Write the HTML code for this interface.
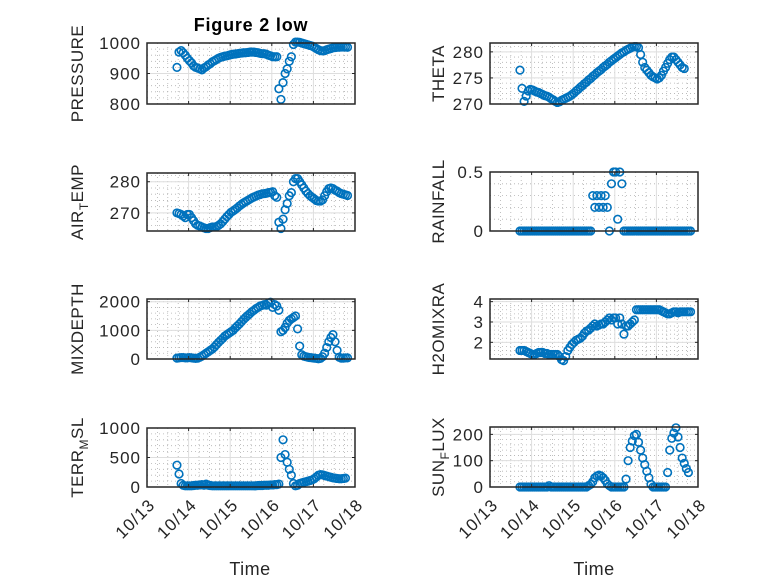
<!DOCTYPE html>
<html><head><meta charset="utf-8"><style>
body{margin:0;background:#fff;}
svg{display:block;font-family:"Liberation Sans",sans-serif;}
</style></head><body>
<svg id="fig" width="778" height="583" viewBox="0 0 778 583" xmlns="http://www.w3.org/2000/svg">
<rect width="778" height="583" fill="#fff"/>
<text x="251" y="31" text-anchor="middle" font-size="18" font-weight="bold" letter-spacing="0.8" fill="#000">Figure 2 low</text>
<text x="250" y="575" text-anchor="middle" font-size="18" letter-spacing="0.5" fill="#262626">Time</text>
<text x="594" y="575" text-anchor="middle" font-size="18" letter-spacing="0.5" fill="#262626">Time</text>
</svg>
<script>
const tStart = 13.72, tStep = 0.05;
const dayTicks = [13,14,15,16,17,18];
const dayLabels = ["10/13","10/14","10/15","10/16","10/17","10/18"];
const pressure = [920,970,975,968,960,950,942,935,925,920,918,915,912,918,922,928,932,938,942,946,950,953,955,957,958,960,962,963,964,965,966,967,968,968,969,970,970,970,969,968,966,965,965,963,960,958,955,955,955,850,815,870,900,915,940,955,995,1003,1003,1002,1000,998,996,994,992,990,986,982,978,975,974,975,978,980,982,984,985,986,986,987,987,987,986];
const theta = [276.5,273,270.5,271.5,272.5,272.8,272.7,272.5,272.3,272.2,272.0,271.8,271.6,271.5,271.3,271.0,270.8,270.5,270.3,270.4,270.7,270.9,271.1,271.3,271.5,271.8,272.1,272.5,272.8,273.2,273.5,273.9,274.2,274.6,274.9,275.3,275.6,276.0,276.3,276.6,277.0,277.3,277.6,278.0,278.3,278.6,278.9,279.2,279.5,279.8,280.0,280.3,280.5,280.7,280.9,281,281,280.8,279.5,278,277,276.5,276,275.5,275.2,275,274.8,275,275.5,276.3,277,277.8,278.5,279,279,278.5,278,277.5,277,276.8,null,null,null];
const airTemp = [270,269.8,269.5,269,268.5,269.5,269.5,268.5,267.5,266.5,266,265.8,265.5,265.2,265,265,265.3,265.5,265.5,265.6,266,266.5,267.2,268,268.8,269.5,270.2,270.6,271.1,271.6,272.2,272.7,273.2,273.6,274.0,274.4,274.8,275.1,275.4,275.7,275.9,276.1,276.2,276.3,276.5,276.6,276.8,275.5,275,267,265,268,271,273,275.5,276.5,280,281,281,280,279,278,277,276.2,275.5,275,274.5,274,273.8,273.8,274.2,275.5,276.8,277.8,278,277.8,277.3,277,276.5,276.2,276,275.8,275.6];
const rainfall = [0,0,0,0,0,0,0,0,0,0,0,0,0,0,0,0,0,0,0,0,0,0,0,0,0,0,0,0,0,0,0,0,0,0,0,0.3,0.2,0.3,0.2,0.3,0.2,0.3,0.2,0,0.4,0.5,0.5,0.1,0.5,0.4,0,0,0,0,0,0,0,0,0,0,0,0,0,0,0,0,0,0,0,0,0,0,0,0,0,0,0,0,0,0,0,0,0];
const mixDepth = [30,40,50,50,40,40,50,40,30,20,30,60,100,150,200,250,300,350,420,500,580,650,720,800,850,900,950,1000,1080,1150,1220,1300,1380,1450,1520,1580,1650,1700,1760,1800,1850,1870,1900,1880,1950,1980,1800,1900,1850,1700,950,1000,1100,1250,1350,1400,1450,1500,1050,450,150,100,80,60,50,40,30,20,10,20,80,200,400,600,750,850,600,300,60,30,30,40,40];
const h2oMix = [1.6,1.6,1.6,1.55,1.5,1.45,1.4,1.4,1.45,1.5,1.5,1.5,1.45,1.45,1.4,1.4,1.4,1.4,1.4,1.3,1.15,1.1,1.3,1.6,1.75,1.9,2.0,2.1,2.15,2.2,2.3,2.45,2.55,2.6,2.7,2.8,2.9,2.8,2.85,2.9,2.9,3.0,3.1,3.2,3.1,3.2,3.2,2.9,3.2,2.9,2.4,2.8,2.8,2.9,3.0,3.1,3.6,3.6,3.6,3.6,3.6,3.6,3.6,3.6,3.6,3.6,3.6,3.6,3.55,3.5,3.45,3.4,3.4,3.45,3.5,3.5,3.45,3.5,3.5,3.5,3.5,3.5,3.5];
const terrMsl = [370,220,60,30,20,20,20,20,25,30,30,35,40,30,50,30,25,20,20,20,20,20,20,20,20,20,20,20,20,20,20,20,20,20,20,20,20,20,20,25,25,25,30,30,30,35,35,40,40,50,500,800,550,420,300,200,60,20,30,60,70,80,90,100,110,120,140,170,200,210,205,195,185,175,165,155,150,145,140,140,145,150,null];
const sunFlux = [0,0,0,0,0,0,0,0,0,0,0,0,0,0,5,0,0,0,0,0,0,0,0,0,0,0,0,0,0,0,0,0,0,5,10,20,35,42,45,42,35,25,12,5,0,0,0,0,0,0,0,30,100,150,175,195,200,170,140,110,85,60,35,10,0,0,0,0,0,0,0,55,140,185,205,225,190,150,110,90,70,55,null];
const pTicks=[800,900,1000], thTicks=[270,275,280], atTicks=[270,280], rfTicks=[0,0.5];
const mdTicks=[0,1000,2000], h2Ticks=[2,3,4], tmTicks=[0,500,1000], sfTicks=[0,100,200];

const NS="http://www.w3.org/2000/svg";
const svg=document.getElementById('fig');
function el(tag,attrs,parent){const e=document.createElementNS(NS,tag);for(const k in attrs)e.setAttribute(k,attrs[k]);(parent||svg).appendChild(e);return e;}
const cols={L:{x0:147,x1:355,lab:83},R:{x0:490,x1:698,lab:444}};
const panels=[
 {name:'pressure',col:'L',y0:43,y1:104,lo:800,hi:1000,ticks:pTicks,minor:20,data:pressure,label:['PRESSURE']},
 {name:'theta',col:'R',y0:43,y1:104,lo:270,hi:281.7,ticks:thTicks,minor:1,data:theta,label:['THETA']},
 {name:'air-temp',col:'L',y0:173,y1:231,lo:264.2,hi:282.8,ticks:atTicks,minor:2,data:airTemp,label:['AIR','T','EMP']},
 {name:'rainfall',col:'R',y0:172,y1:231,lo:0,hi:0.5,ticks:rfTicks,minor:0.1,data:rainfall,label:['RAINFALL']},
 {name:'mixdepth',col:'L',y0:299,y1:359,lo:0,hi:2094,ticks:mdTicks,minor:200,data:mixDepth,label:['MIXDEPTH']},
 {name:'h2omixra',col:'R',y0:299,y1:359,lo:1.18,hi:4.13,ticks:h2Ticks,minor:0.2,data:h2oMix,label:['H2OMIXRA']},
 {name:'terr-msl',col:'L',y0:428,y1:487,lo:0,hi:1000,ticks:tmTicks,minor:100,data:terrMsl,label:['TERR','M','SL'],xl:true},
 {name:'sun-flux',col:'R',y0:427,y1:487,lo:0,hi:228,ticks:sfTicks,minor:20,data:sunFlux,label:['SUN','F','LUX'],xl:true}
];
panels.forEach(p=>{
 const c=cols[p.col];
 const xs=t=>c.x0+(t-13)/5*(c.x1-c.x0);
 const ys=v=>p.y1-(v-p.lo)/(p.hi-p.lo)*(p.y1-p.y0);
 const g=el('g',{});
 
 
 for(let d=13;d<18;d+=0.25){if(Math.abs(d-Math.round(d))<1e-6)continue;
  el('line',{x1:xs(d),x2:xs(d),y1:p.y0,y2:p.y1,stroke:'#b0b0b0','stroke-width':0.8,'stroke-dasharray':'1 3'},g);}
 for(let v=Math.ceil(p.lo/p.minor)*p.minor;v<p.hi;v+=p.minor){
  el('line',{x1:c.x0,x2:c.x1,y1:ys(v),y2:ys(v),stroke:'#b0b0b0','stroke-width':0.8,'stroke-dasharray':'1 3'},g);}
 dayTicks.forEach(d=>el('line',{x1:xs(d),x2:xs(d),y1:p.y0,y2:p.y1,stroke:'#dedede','stroke-width':1},g));
 p.ticks.forEach(v=>el('line',{x1:c.x0,x2:c.x1,y1:ys(v),y2:ys(v),stroke:'#dedede','stroke-width':1},g));
 p.data.forEach((v,i)=>{if(v===null)return;
  const m=el('circle',{cx:xs(tStart+tStep*i),cy:ys(v),r:3.8,fill:'none',stroke:'#0072BD','stroke-width':1.6},g);
  
  
 });
 el('rect',{x:c.x0,y:p.y0,width:c.x1-c.x0,height:p.y1-p.y0,fill:'none',stroke:'#262626','stroke-width':1.5},g);
 dayTicks.forEach(d=>{el('line',{x1:xs(d),x2:xs(d),y1:p.y1,y2:p.y1-3,stroke:'#262626'},g);el('line',{x1:xs(d),x2:xs(d),y1:p.y0,y2:p.y0+3,stroke:'#262626'},g);});
 p.ticks.forEach(v=>{
  el('line',{x1:c.x0,x2:c.x0+3,y1:ys(v),y2:ys(v),stroke:'#262626'},g);
  el('line',{x1:c.x1,x2:c.x1-3,y1:ys(v),y2:ys(v),stroke:'#262626'},g);
  const t=el('text',{x:c.x0-6,y:ys(v)+6,'text-anchor':'end','font-size':17,fill:'#262626','letter-spacing':'1'},g);
  t.textContent=String(v);
  
  
 });
 const cy=(p.y0+p.y1)/2;
 const yl=el('text',{x:c.lab,y:cy,transform:`rotate(-90 ${c.lab} ${cy})`,'text-anchor':'middle','font-size':17,'letter-spacing':'0.5',fill:'#262626'},g);
 
 
 if(p.label.length===1){yl.textContent=p.label[0];}
 else{
  el('tspan',{},yl).textContent=p.label[0];
  el('tspan',{dy:5,'font-size':12},yl).textContent=p.label[1];
  el('tspan',{dy:-5},yl).textContent=p.label[2];
 }
 if(p.xl){dayLabels.forEach((s,i)=>{
  const x=xs(dayTicks[i])+9,y=p.y1+19;
  const t=el('text',{x:x,y:y,transform:`rotate(-45 ${x} ${y})`,'text-anchor':'end','font-size':17,fill:'#262626','letter-spacing':'1'},g);
  t.textContent=s;
  
  
 });}
});
</script>
</body></html>
